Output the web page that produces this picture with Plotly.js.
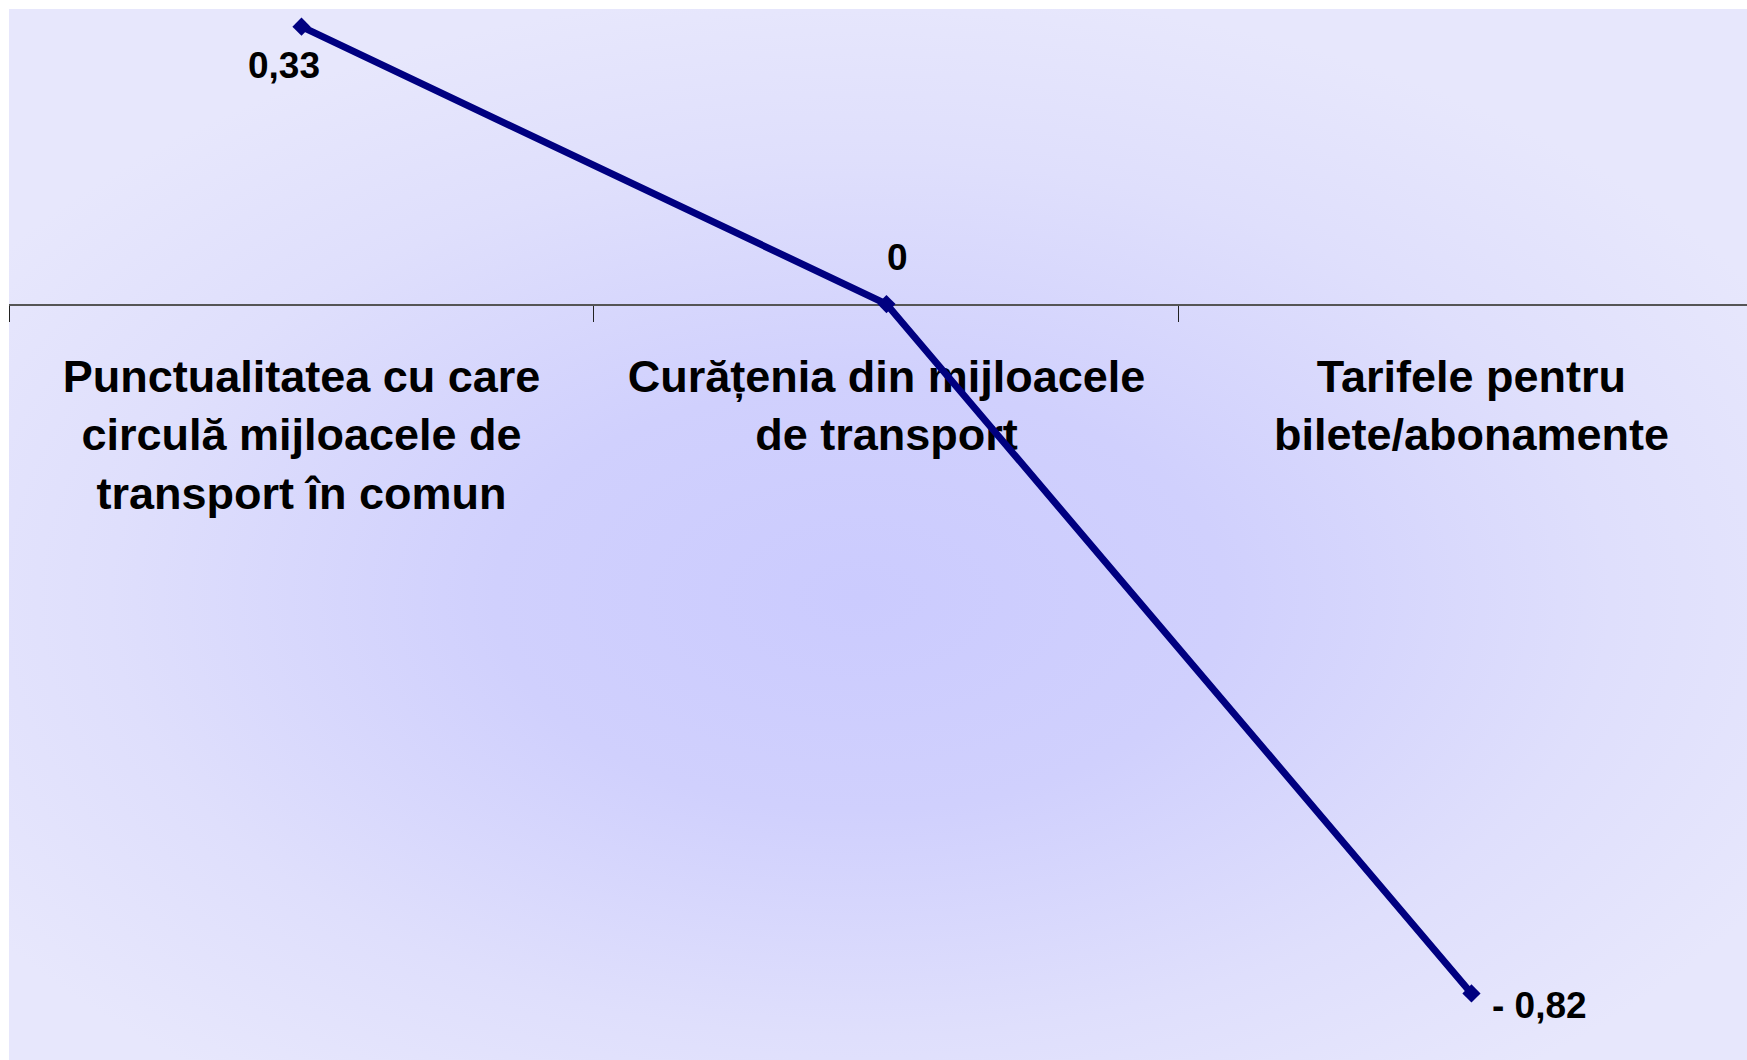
<!DOCTYPE html>
<html>
<head>
<meta charset="utf-8">
<script src="https://cdn.plot.ly/plotly-3.0.1.min.js"></script>
<style>
  html, body { margin: 0; padding: 0; background: #ffffff; }
  #fundal {
    position: absolute; left: 9px; top: 9px; width: 1738px; height: 1051px;
    background: radial-gradient(ellipse 60% 58% at 49% 56%, #cbcbfe 0%, #d0d0fd 35%, #dfdffc 72%, #e7e7fc 100%);
  }
  #grafic { position: absolute; left: 0; top: 0; width: 1747px; height: 1060px; }
</style>
</head>
<body>
<div id="fundal"></div>
<div id="grafic"></div>
<script>
// categorii (axa X)
const categorii = [
  'Punctualitatea cu care<br>circulă mijloacele de<br>transport în comun',
  'Curățenia din mijloacele<br>de transport',
  'Tarifele pentru<br>bilete/abonamente'
];
const valori = [0.33, 0, -0.82];
const eticheteValori = ['0,33', '0', '- 0,82'];

// deplasarea etichetelor fata de punct (px)
const deplasareX = [-17, 11, 68];
const deplasareY = [-39, 47, -12];

const serie = {
  x: categorii,
  y: valori,
  type: 'scatter',
  mode: 'lines+markers',
  line: { color: '#000080', width: 7 },
  marker: { symbol: 'diamond', size: 14, color: '#000080' },
  hoverinfo: 'skip',
  showlegend: false
};

const adnotari = valori.map((v, i) => ({
  x: categorii[i],
  y: v,
  xref: 'x',
  yref: 'y',
  text: eticheteValori[i],
  showarrow: false,
  xshift: deplasareX[i],
  yshift: deplasareY[i],
  font: { family: 'Liberation Sans, Arial, sans-serif', size: 37, color: '#000000', weight: 'bold' }
}));

const yMin = -0.898;
const yMax = 0.351;

const layout = {
  width: 1747,
  height: 1060,
  margin: { l: 9, r: 0, t: 9, b: 1 },
  paper_bgcolor: 'rgba(0,0,0,0)',
  plot_bgcolor: 'rgba(0,0,0,0)',
  showlegend: false,
  xaxis: {
    type: 'category',
    range: [-0.5, 2.471],
    tickson: 'boundaries',
    ticks: 'outside',
    ticklen: 16,
    tickcolor: '#222222',
    tickwidth: 1,
    showline: true,
    linecolor: '#555555',
    linewidth: 1.5,
    showgrid: false,
    zeroline: false,
    anchor: 'free',
    position: (0 - yMin) / (yMax - yMin),
    layer: 'below traces',
    ticklabelstandoff: 32,
    tickfont: { family: 'Liberation Sans, Arial, sans-serif', size: 45, color: '#000000', weight: 'bold' }
  },
  yaxis: {
    range: [yMin, yMax],
    visible: false,
    showgrid: false,
    zeroline: false
  },
  annotations: adnotari
};

Plotly.newPlot('grafic', [serie], layout, { displayModeBar: false, staticPlot: true });
</script>
</body>
</html>
